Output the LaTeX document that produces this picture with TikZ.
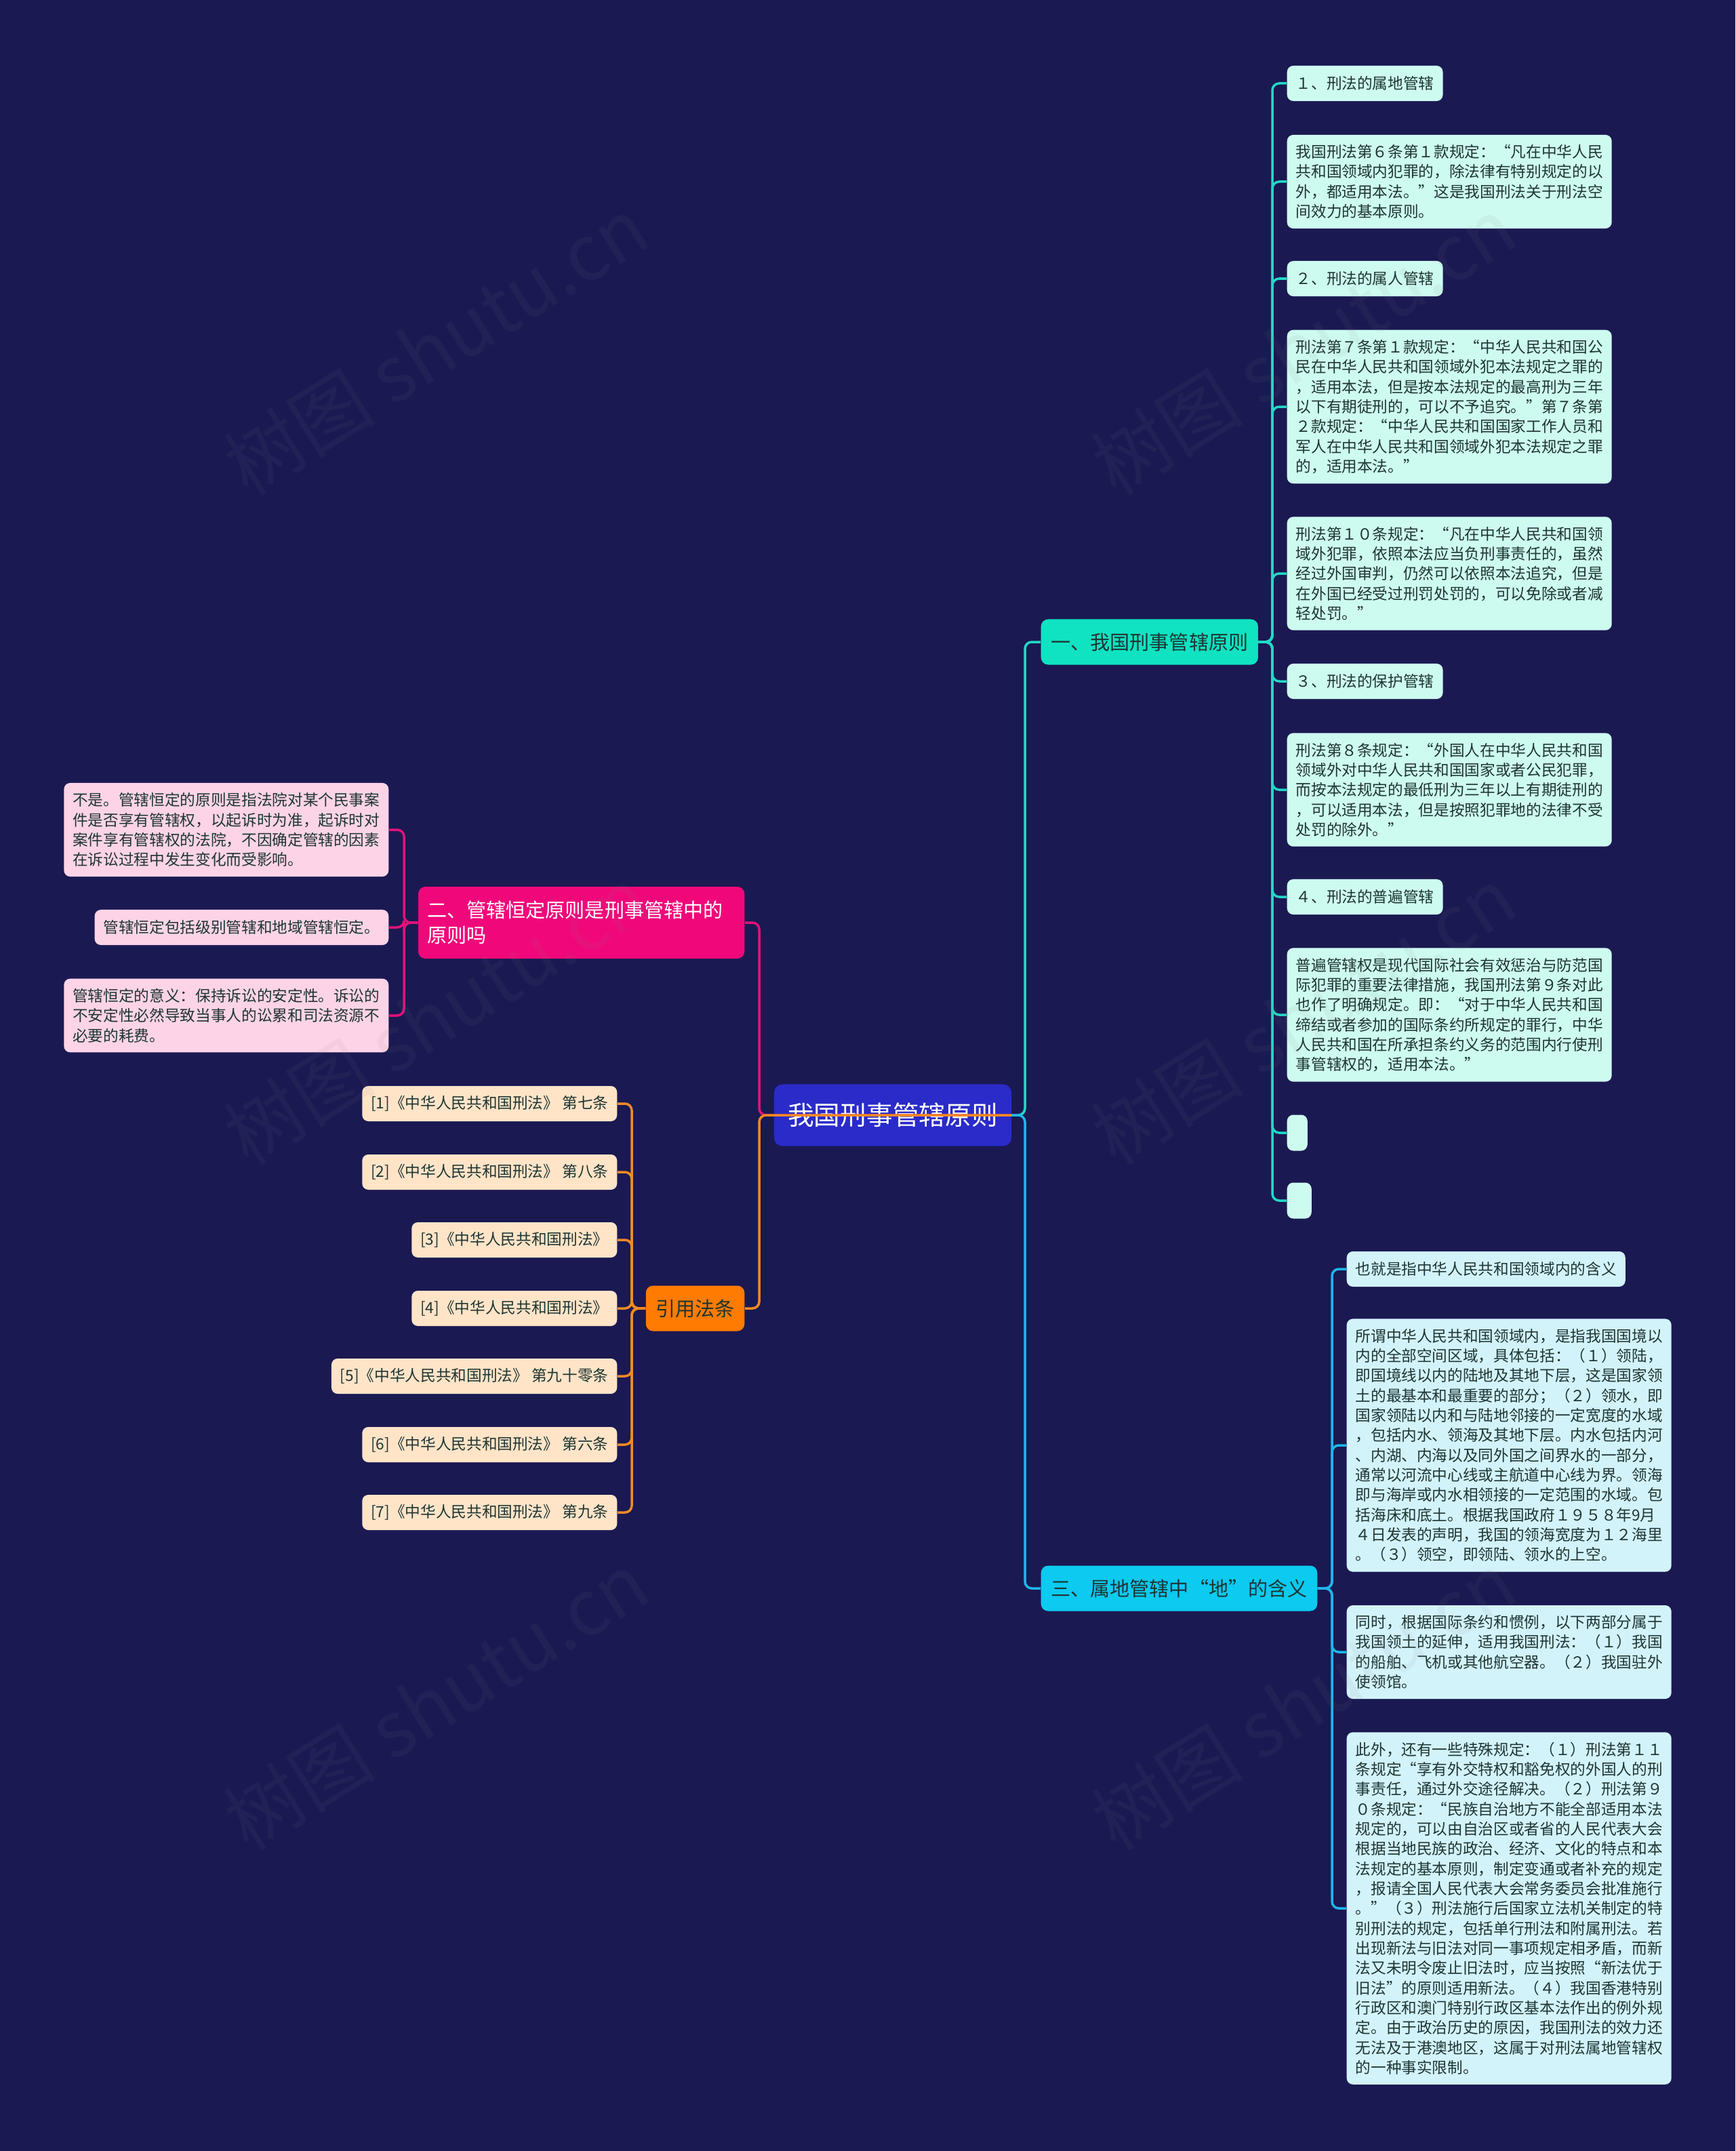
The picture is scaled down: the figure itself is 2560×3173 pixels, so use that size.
\documentclass[tikz,border=0pt]{standalone}
\usepackage{fontspec}
\setmainfont{Noto Sans CJK SC}
\definecolor{cbg}{HTML}{1B1952}
\definecolor{croot}{HTML}{2A2BC9}
\definecolor{cteal}{HTML}{0FE3C2}
\definecolor{ctealline}{HTML}{22D8C6}
\definecolor{ctealfill}{HTML}{CEFBF0}
\definecolor{ccyan}{HTML}{0CCAF0}
\definecolor{ccyanline}{HTML}{1DB7EA}
\definecolor{ccyanfill}{HTML}{D3F3FB}
\definecolor{cpink}{HTML}{F0087A}
\definecolor{cpinkline}{HTML}{E0137A}
\definecolor{cpinkfill}{HTML}{FDD4E7}
\definecolor{corange}{HTML}{FF7B02}
\definecolor{corangeline}{HTML}{F08A24}
\definecolor{corangefill}{HTML}{FFE4C8}
\definecolor{ctext}{HTML}{1E3532}
\tikzset{
  leaf/.style={fill=#1, rounded corners=2.6pt, align=left, inner xsep=0.13cm, inner ysep=0.145cm, text=ctext, font=\fontsize{6.44pt}{8.34pt}\selectfont},
  tagbox/.style={leaf=#1, minimum height=0.52cm},
  branch/.style={fill=#1, rounded corners=3pt, align=left, inner xsep=0.145cm, minimum height=0.67cm, text=ctext, font=\fontsize{8.28pt}{10.5pt}\selectfont},
  rootbox/.style={fill=croot, rounded corners=3.5pt, text=white, minimum width=3.5cm, minimum height=0.91cm, font=\fontsize{11pt}{13pt}\selectfont},
  conn/.style={draw=#1, line width=0.035cm, rounded corners=0.1cm},
  wmark/.style={text=gray, opacity=0.08, rotate=32, font=\fontsize{32pt}{36pt}\selectfont},
}

\begin{document}
\begin{tikzpicture}[x=0.01cm, y=-0.01cm]
  \useasboundingbox (0,0) rectangle (2560,3173);
  \fill[cbg] (0,0) rectangle (2560,3173);

  \node[rootbox] (root) at (1317,1645) {我国刑事管辖原则};

  \node[branch=cteal, anchor=west] (p1) at (1535,947) {一、我国刑事管辖原则};
  \node[branch=cpink, text=white, anchor=east, inner ysep=0.21cm, inner xsep=0.13cm, text width=4.55cm] (p2) at (1099,1361) {二、管辖恒定原则是刑事管辖中的\\原则吗};
  \node[branch=ccyan, anchor=west] (p3) at (1535,2343) {三、属地管辖中“地”的含义};
  \node[branch=corange, anchor=east] (p4) at (1099,1930) {引用法条};

  \node[tagbox=ctealfill, anchor=west] (c1) at (1898,123) {１、刑法的属地管辖};
  \node[leaf=ctealfill, anchor=west] (c2) at (1898,268) {我国刑法第６条第１款规定：“凡在中华人民\\共和国领域内犯罪的，除法律有特别规定的以\\外，都适用本法。”这是我国刑法关于刑法空\\间效力的基本原则。};
  \node[tagbox=ctealfill, anchor=west] (c3) at (1898,411) {２、刑法的属人管辖};
  \node[leaf=ctealfill, anchor=west] (c4) at (1898,600) {刑法第７条第１款规定：“中华人民共和国公\\民在中华人民共和国领域外犯本法规定之罪的\\，适用本法，但是按本法规定的最高刑为三年\\以下有期徒刑的，可以不予追究。”第７条第\\２款规定：“中华人民共和国国家工作人员和\\军人在中华人民共和国领域外犯本法规定之罪\\的，适用本法。”};
  \node[leaf=ctealfill, anchor=west] (c5) at (1898,846) {刑法第１０条规定：“凡在中华人民共和国领\\域外犯罪，依照本法应当负刑事责任的，虽然\\经过外国审判，仍然可以依照本法追究，但是\\在外国已经受过刑罚处罚的，可以免除或者减\\轻处罚。”};
  \node[tagbox=ctealfill, anchor=west] (c6) at (1898,1005) {３、刑法的保护管辖};
  \node[leaf=ctealfill, anchor=west] (c7) at (1898,1165) {刑法第８条规定：“外国人在中华人民共和国\\领域外对中华人民共和国国家或者公民犯罪，\\而按本法规定的最低刑为三年以上有期徒刑的\\，可以适用本法，但是按照犯罪地的法律不受\\处罚的除外。”};
  \node[tagbox=ctealfill, anchor=west] (c8) at (1898,1323) {４、刑法的普遍管辖};
  \node[leaf=ctealfill, anchor=west] (c9) at (1898,1497) {普遍管辖权是现代国际社会有效惩治与防范国\\际犯罪的重要法律措施，我国刑法第９条对此\\也作了明确规定。即：“对于中华人民共和国\\缔结或者参加的国际条约所规定的罪行，中华\\人民共和国在所承担条约义务的范围内行使刑\\事管辖权的，适用本法。”};
  \node[leaf=ctealfill, anchor=west, minimum width=0.30cm, minimum height=0.53cm] (c10) at (1898,1671) {};
  \node[leaf=ctealfill, anchor=west, minimum width=0.36cm, minimum height=0.53cm] (c11) at (1898,1771) {};

  \node[leaf=cpinkfill, anchor=east] (e1) at (574,1224) {不是。管辖恒定的原则是指法院对某个民事案\\件是否享有管辖权，以起诉时为准，起诉时对\\案件享有管辖权的法院，不因确定管辖的因素\\在诉讼过程中发生变化而受影响。};
  \node[tagbox=cpinkfill, anchor=east] (e2) at (574,1368) {管辖恒定包括级别管辖和地域管辖恒定。};
  \node[leaf=cpinkfill, anchor=east] (e3) at (574,1498) {管辖恒定的意义：保持诉讼的安定性。诉讼的\\不安定性必然导致当事人的讼累和司法资源不\\必要的耗费。};

  \node[tagbox=ccyanfill, anchor=west] (d1) at (1986,1872) {也就是指中华人民共和国领域内的含义};
  \node[leaf=ccyanfill, anchor=west] (d2) at (1986,2132) {所谓中华人民共和国领域内，是指我国国境以\\内的全部空间区域，具体包括：（１）领陆，\\即国境线以内的陆地及其地下层，这是国家领\\土的最基本和最重要的部分；（２）领水，即\\国家领陆以内和与陆地邻接的一定宽度的水域\\，包括内水、领海及其地下层。内水包括内河\\、内湖、内海以及同外国之间界水的一部分，\\通常以河流中心线或主航道中心线为界。领海\\即与海岸或内水相领接的一定范围的水域。包\\括海床和底土。根据我国政府１９５８年9月\\４日发表的声明，我国的领海宽度为１２海里\\。（３）领空，即领陆、领水的上空。};
  \node[leaf=ccyanfill, anchor=west] (d3) at (1986,2437) {同时，根据国际条约和惯例，以下两部分属于\\我国领土的延伸，适用我国刑法：（１）我国\\的船舶、飞机或其他航空器。（２）我国驻外\\使领馆。};
  \node[leaf=ccyanfill, anchor=west] (d4) at (1986,2815) {此外，还有一些特殊规定：（１）刑法第１１\\条规定“享有外交特权和豁免权的外国人的刑\\事责任，通过外交途径解决。（２）刑法第９\\０条规定：“民族自治地方不能全部适用本法\\规定的，可以由自治区或者省的人民代表大会\\根据当地民族的政治、经济、文化的特点和本\\法规定的基本原则，制定变通或者补充的规定\\，报请全国人民代表大会常务委员会批准施行\\。”（３）刑法施行后国家立法机关制定的特\\别刑法的规定，包括单行刑法和附属刑法。若\\出现新法与旧法对同一事项规定相矛盾，而新\\法又未明令废止旧法时，应当按照“新法优于\\旧法”的原则适用新法。（４）我国香港特别\\行政区和澳门特别行政区基本法作出的例外规\\定。由于政治历史的原因，我国刑法的效力还\\无法及于港澳地区，这属于对刑法属地管辖权\\的一种事实限制。};

  \node[tagbox=corangefill, anchor=east] (f1) at (911,1628) {[1]《中华人民共和国刑法》 第七条};
  \node[tagbox=corangefill, anchor=east] (f2) at (911,1729) {[2]《中华人民共和国刑法》 第八条};
  \node[tagbox=corangefill, anchor=east] (f3) at (911,1829) {[3]《中华人民共和国刑法》};
  \node[tagbox=corangefill, anchor=east] (f4) at (911,1930) {[4]《中华人民共和国刑法》};
  \node[tagbox=corangefill, anchor=east] (f5) at (911,2030) {[5]《中华人民共和国刑法》 第九十零条};
  \node[tagbox=corangefill, anchor=east] (f6) at (911,2131) {[6]《中华人民共和国刑法》 第六条};
  \node[tagbox=corangefill, anchor=east] (f7) at (911,2231) {[7]《中华人民共和国刑法》 第九条};

  \coordinate (r1) at (1512,1645);
  \coordinate (r2) at (1120,1645);
  \coordinate (s1) at (1877,947);
  \coordinate (s2) at (596,1361);
  \coordinate (s3) at (1965,2343);
  \coordinate (s4) at (932,1930);

  \draw[conn=ctealline] (root.east) -- (r1) |- (p1.west);
  \draw[conn=ccyanline] (root.east) -- (r1) |- (p3.west);
  \draw[conn=cpinkline] (root.east) -- (r2) |- (p2.east);
  \draw[conn=corangeline] (root.east) -- (r2) |- (p4.east);

  \foreach \i in {1,...,11} \draw[conn=ctealline] (p1.east) -- (s1) |- (c\i.west);
  \foreach \i in {1,...,3} \draw[conn=cpinkline] (p2.west) -- (s2) |- (e\i.east);
  \foreach \i in {1,...,4} \draw[conn=ccyanline] (p3.east) -- (s3) |- (d\i.west);
  \foreach \i in {1,...,7} \draw[conn=corangeline] (p4.west) -- (s4) |- (f\i.east);

  \node[wmark] (wm1) at (643,510) {树图 shutu.cn};
  \node[wmark] (wm2) at (1923,510) {树图 shutu.cn};
  \node[wmark] (wm3) at (643,1498) {树图 shutu.cn};
  \node[wmark] (wm4) at (1923,1498) {树图 shutu.cn};
  \node[wmark] (wm5) at (643,2509) {树图 shutu.cn};
  \node[wmark] (wm6) at (1923,2509) {树图 shutu.cn};
\end{tikzpicture}
\end{document}
